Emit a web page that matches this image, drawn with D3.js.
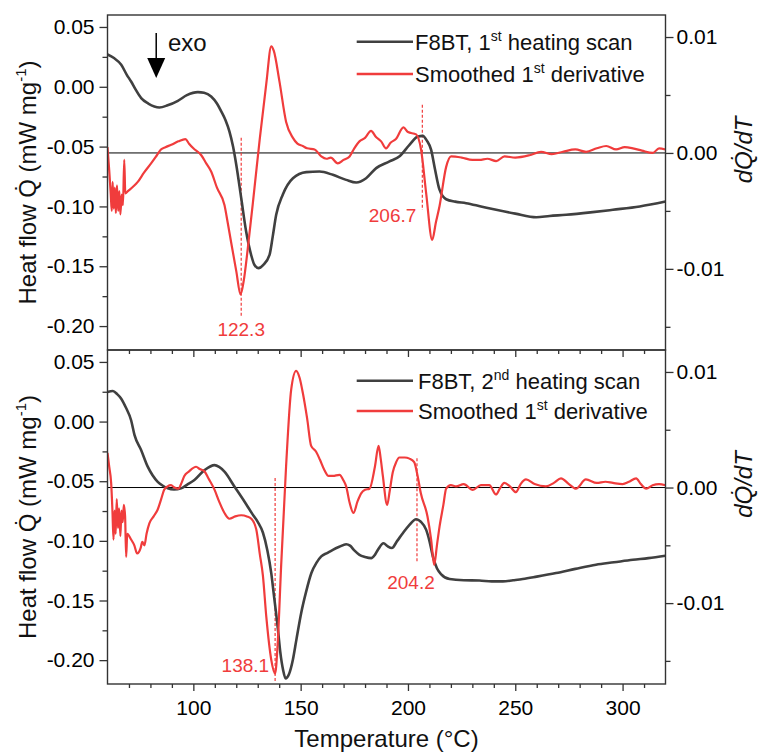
<!DOCTYPE html>
<html>
<head>
<meta charset="utf-8">
<script src="https://cdnjs.cloudflare.com/ajax/libs/d3/7.8.5/d3.min.js"></script>
<style>
  body { margin: 0; background: #fff; }
  text { font-family: "Liberation Sans", Arial, sans-serif; }
</style>
</head>
<body>
<svg id="chart"></svg>
<script>
// Dades llegides del gràfic: [temperatura °C, valor]
// Flux de calor, 1r escalfament (mW/mg)
var heat1 = [[60,0.027],[63,0.024],[66.4,0.0184],[69,0.010],[71,0.0044],[73,-0.002],[75.7,-0.0095],[79,-0.014],
  [84.2,-0.0173],[88,-0.0155],[92.8,-0.0117],[97,-0.007],[102.1,-0.0045],[105,-0.005],[108.3,-0.0081],[111,-0.014],
  [113,-0.0206],[115,-0.028],[116.8,-0.0373],[118.5,-0.050],[120,-0.0652],[122.3,-0.093],[124.6,-0.121],[127,-0.141],
  [128.5,-0.149],[130.4,-0.1516],[132.5,-0.149],[135.5,-0.1405],[137,-0.125],[138.6,-0.107],[141.7,-0.090],
  [146.4,-0.0764],[152.6,-0.0713],[158.8,-0.0708],[165,-0.0736],[171.2,-0.0778],[175.9,-0.080],[180.5,-0.0764],
  [185.2,-0.068],[191.4,-0.0624],[196.1,-0.058],[200.7,-0.0485],[204.6,-0.0415],[206.9,-0.041],[208.8,-0.045],
  [210.8,-0.0527],[212.5,-0.068],[214.7,-0.086],[217.8,-0.094],[222,-0.096],[227.1,-0.0973],[234,-0.100],
  [241.1,-0.1028],[250,-0.106],[259.8,-0.109],[266,-0.108],[273.7,-0.107],[285,-0.105],[295.5,-0.1028],
  [308,-0.100],[320,-0.0959]];

// Derivada suavitzada, 1r escalfament
var deriv1 = [[60,0.0005],[60.8,-0.0015],[61.5,-0.0035],[62,-0.0050],[62.4,-0.0025],[62.9,-0.0048],[63.4,-0.0030],
  [63.9,-0.0052],[64.4,-0.0028],[65,-0.0050],[65.5,-0.0033],[66,-0.0053],[66.6,-0.0036],[67.2,-0.0045],
  [67.8,-0.0006],[68.3,-0.0035],[69.5,-0.0033],[72,-0.0029],[74.1,-0.0025],[77,-0.0017],[80.3,-0.0009],
  [83,-0.0002],[84.9,0.0003],[87,0.0005],[89.7,0.0007],[93,0.0010],[96.3,0.0012],[98,0.0008],[100,0.0004],
  [103.7,-0.0002],[106,-0.0009],[108.3,-0.0016],[111,-0.0030],[114.5,-0.0045],[116,-0.0060],[117.6,-0.0077],
  [120,-0.0102],[122,-0.0122],[123.5,-0.0110],[125.4,-0.0082],[128.5,-0.0030],[131,0.0013],[134,0.0060],
  [136.3,0.0092],[137.5,0.0088],[140.1,0.0062],[143.2,0.0027],[146.4,0.0013],[148.5,0.0008],[151,0.0006],
  [153,0.0004],[156.5,0.0003],[159.6,-0.0003],[162,-0.0005],[164,-0.0004],[167.3,-0.0009],[170,-0.0006],
  [172.8,-0.0003],[175,0.0004],[177.4,0.0010],[180,0.0013],[182.8,0.0019],[185,0.0014],[187.5,0.0010],
  [189.8,0.0004],[192,0.0009],[194.4,0.0012],[197.9,0.0022],[200,0.0018],[203.8,0.0016],[206.1,0.0003],
  [208.5,-0.0035],[211.3,-0.0075],[213,-0.0060],[214.7,-0.0046],[217.8,-0.0012],[220.1,-0.0003],[225,-0.0004],
  [230,-0.0006],[233.3,-0.0006],[237,-0.0005],[241.1,-0.0007],[245,-0.0003],[250,-0.0004],[256.6,-0.0002],
  [262,0.0001],[267,-0.0001],[272.2,0.0001],[278,0.0003],[283,0.0001],[288,0.0004],[292.4,0.0006],[297,0.0003],
  [301,0.0005],[304.8,0.0004],[309,0.0002],[314.1,0],[317,0.0004],[320,0.0003]];

// Flux de calor, 2n escalfament
var heat2 = [[60,0.0247],[62.5,0.0256],[64.5,0.023],[66.4,0.0192],[68.5,0.012],[71,0.0011],[72.6,-0.0114],
  [75.7,-0.024],[78.8,-0.038],[81,-0.045],[83.4,-0.0505],[86,-0.054],[88.1,-0.056],[91,-0.057],[94.3,-0.056],
  [97,-0.053],[100.5,-0.049],[105.2,-0.0407],[109.9,-0.0365],[112,-0.038],[114.5,-0.042],[119.2,-0.0546],
  [123.8,-0.067],[127.7,-0.078],[130,-0.084],[132.4,-0.093],[134.5,-0.108],[136.3,-0.127],[137.5,-0.145],
  [139.4,-0.174],[140.5,-0.193],[141.8,-0.208],[143,-0.2153],[144.5,-0.212],[146.4,-0.1994],[148,-0.183],
  [150.3,-0.160],[152.5,-0.143],[155,-0.127],[157.5,-0.118],[159.6,-0.113],[162.5,-0.110],[165,-0.1075],
  [168,-0.105],[171.2,-0.1028],[173,-0.104],[175,-0.108],[177.4,-0.1117],[180,-0.1135],[182.9,-0.1145],
  [184.5,-0.112],[186,-0.1075],[188.6,-0.102],[190.5,-0.1045],[192.5,-0.106],[195,-0.100],[197.6,-0.0936],
  [200.5,-0.087],[203.8,-0.0819],[206,-0.084],[208.5,-0.0908],[210,-0.100],[211.6,-0.113],[213.5,-0.123],
  [215.5,-0.128],[219.4,-0.132],[226,-0.133],[233.3,-0.1332],[239,-0.134],[244.2,-0.134],[249,-0.133],
  [253.5,-0.132],[260,-0.130],[269,-0.127],[278,-0.1235],[287.6,-0.120],[296,-0.118],[304.8,-0.1159],
  [312,-0.1145],[320,-0.1125]];

// Derivada suavitzada, 2n escalfament
var deriv2 = [[60,0.0030],[60.8,0.0018],[61.7,0.0004],[62.3,-0.0020],[62.8,-0.0045],[63.3,-0.0020],[63.8,-0.0040],
  [64.3,-0.0010],[64.9,-0.0035],[65.4,-0.0018],[66,-0.0042],[66.5,-0.0020],[67.1,-0.0030],[67.6,-0.0015],
  [68.2,-0.0025],[68.7,-0.0060],[69.2,-0.0040],[71,-0.0045],[72.5,-0.0050],[73.8,-0.0057],[75.5,-0.0052],
  [76.2,-0.0047],[77.2,-0.0050],[78.2,-0.0040],[79.5,-0.0031],[81.5,-0.0025],[83.4,-0.0019],[85,-0.0010],
  [86.4,-0.0002],[88,0.0001],[89.6,0.0002],[91.2,0.0000],[93,-0.0001],[94.5,0.0004],[95.8,0.0010],[98,0.0014],
  [101.3,0.0018],[103,0.0016],[105.2,0.0014],[107,0.0008],[109.9,-0.0002],[112,-0.0012],[114.5,-0.0022],
  [116.8,-0.0027],[119.5,-0.0025],[122.3,-0.0024],[125,-0.0025],[127,-0.0027],[129.3,-0.0036],[131,-0.0058],
  [132.4,-0.0076],[134,-0.0112],[136.3,-0.0149],[138.1,-0.0161],[139.3,-0.0135],[140.9,-0.0068],[143.2,0.0018],
  [145.6,0.0085],[147.9,0.0101],[149.5,0.0095],[151,0.0082],[153,0.0060],[154.9,0.0036],[157.2,0.0031],
  [159,0.0024],[161.1,0.0015],[163,0.0010],[165,0.0010],[168.1,0.0011],[170,0.0006],[171.2,0.0001],
  [172.8,-0.0013],[174.6,-0.0022],[176.5,-0.0012],[178.2,-0.0005],[180,-0.0002],[182.1,-0.0001],[184.6,0.0018],
  [186.3,0.0036],[187.3,0.0025],[188.3,0.0010],[190.3,-0.0015],[191.5,-0.0003],[192.9,0.0013],[194.5,0.0022],
  [196,0.0026],[198.5,0.0026],[200.7,0.0025],[202.9,0.0022],[204.5,0.0010],[206,-0.0005],[209.1,-0.0025],
  [210.8,-0.0045],[212.2,-0.0067],[213.5,-0.0050],[214.7,-0.0034],[216.5,-0.0015],[217.8,-0.0001],[220,0.0002],
  [222.4,0.0001],[226,0.0003],[230.2,-0.0002],[234,0.0002],[237.9,0.0002],[241,-0.0006],[242.8,-0.0001],
  [244.9,0.0004],[247.5,0.0001],[250.3,-0.0004],[252.5,0.0003],[255,0.0007],[259,0.0003],[264.3,0.0001],
  [268,0.0004],[271.3,0.0008],[275,0.0003],[278.3,-0.0001],[282.9,0.0007],[288,0.0004],[292,0.0005],
  [295.5,0.0004],[300,0.0003],[303,0.0005],[306.3,0.0008],[308.5,0.0003],[311,-0.0001],[314,0.0002],
  [317,0.0003],[320,0.0002]];

// Pics marcats: temperatura i extrem vertical de la línia (eix esquerre)
var peaks1 = [{t: 122.3, y0: -0.0426, y1: -0.193}, {t: 206.7, y0: -0.015, y1: -0.103}];
var peaks2 = [{t: 138.1, y0: -0.0474, y1: -0.218}, {t: 204.2, y0: -0.0307, y1: -0.1175}];

// Ticks
var xMajor = [100, 150, 200, 250, 300];
var leftMajor = [-0.20, -0.15, -0.10, -0.05, 0.00, 0.05];
var rightMajor = [-0.01, 0.00, 0.01];

var width = 761, height = 754;
var black = "#404040", red = "#f03c3c";

var svg = d3.select("#chart").attr("width", width).attr("height", height);

var x = d3.scaleLinear().domain([60, 320]).range([107.5, 665.5]);
var xMinor = d3.range(70, 320, 10).filter(d => xMajor.indexOf(d) < 0);
var leftMinor = [-0.175, -0.125, -0.075, -0.025, 0.025];
var rightMinor = [-0.015, -0.005, 0.005];

var fmt = d => d3.format(".2f")(d).replace("\u2212", "-");

var panels = [
  {top: 15, bottom: 350, heat: heat1, deriv: deriv1, peaks: peaks1, ord: ["1", "st"], leg: [41.7, 74], legX: 415, topTicks: false},
  {top: 350, bottom: 684, heat: heat2, deriv: deriv2, peaks: peaks2, ord: ["2", "nd"], leg: [380.7, 411], legX: 418, topTicks: true}
];

panels.forEach(function(p, i) {
  var yL = d3.scaleLinear().domain([-0.22, 0.06]).range([p.bottom, p.top]);
  var yR = d3.scaleLinear().domain([-0.017, 0.0119]).range([p.bottom, p.top]);
  var g = svg.append("g");

  var clipId = "clip" + i;
  svg.append("clipPath").attr("id", clipId).append("rect")
    .attr("x", x.range()[0]).attr("y", p.top)
    .attr("width", x.range()[1] - x.range()[0]).attr("height", p.bottom - p.top);

  // línia del zero de la derivada
  g.append("line")
    .attr("x1", x.range()[0]).attr("x2", x.range()[1])
    .attr("y1", yR(0)).attr("y2", yR(0))
    .attr("stroke", "#000").attr("stroke-width", 1);

  // línies discontínues dels pics
  p.peaks.forEach(function(k) {
    g.append("line")
      .attr("x1", x(k.t)).attr("x2", x(k.t))
      .attr("y1", yL(k.y0)).attr("y2", yL(k.y1))
      .attr("stroke", red).attr("stroke-width", 1.2).attr("stroke-dasharray", "3,2");
  });

  var lineL = d3.line().curve(d3.curveMonotoneX).x(d => x(d[0])).y(d => yL(d[1]));
  var lineR = d3.line().curve(d3.curveMonotoneX).x(d => x(d[0])).y(d => yR(d[1]));

  g.append("path").datum(p.heat)
    .attr("clip-path", "url(#" + clipId + ")")
    .attr("d", lineL).attr("fill", "none")
    .attr("stroke", black).attr("stroke-width", 2.6).attr("stroke-linejoin", "round");

  g.append("path").datum(p.deriv)
    .attr("clip-path", "url(#" + clipId + ")")
    .attr("d", lineR).attr("fill", "none")
    .attr("stroke", red).attr("stroke-width", 2.2).attr("stroke-linejoin", "round");

  // eixos
  var axL = g.append("g").attr("transform", "translate(" + x.range()[0] + ",0)")
    .call(d3.axisLeft(yL).tickValues(leftMajor).tickSize(8).tickFormat(fmt));
  g.append("g").attr("transform", "translate(" + x.range()[0] + ",0)")
    .call(d3.axisLeft(yL).tickValues(leftMinor).tickSize(5).tickFormat(""));
  g.append("g").attr("transform", "translate(" + x.range()[1] + ",0)")
    .call(d3.axisRight(yR).tickValues(rightMajor).tickSize(8).tickFormat(fmt));
  g.append("g").attr("transform", "translate(" + x.range()[1] + ",0)")
    .call(d3.axisRight(yR).tickValues(rightMinor).tickSize(5).tickFormat(""));

  if (p.topTicks) {
    g.append("g").attr("transform", "translate(0," + p.top + ")")
      .call(d3.axisBottom(x).tickValues(xMajor).tickSize(7).tickFormat(""));
    g.append("g").attr("transform", "translate(0," + p.top + ")")
      .call(d3.axisBottom(x).tickValues(xMinor).tickSize(4).tickFormat(""));
    g.append("g").attr("transform", "translate(0," + p.bottom + ")")
      .call(d3.axisBottom(x).tickValues(xMajor).tickSize(7).tickPadding(9));
    g.append("g").attr("transform", "translate(0," + p.bottom + ")")
      .call(d3.axisBottom(x).tickValues(xMinor).tickSize(4).tickFormat(""));
  }

  g.selectAll(".domain").remove();
  g.selectAll(".tick line").attr("stroke", "#333").attr("stroke-width", 1.3);
  g.selectAll(".tick text").attr("font-size", 21).attr("fill", "#000")
    .attr("font-family", "'Liberation Sans', Arial, sans-serif");
  axL.selectAll(".tick text").attr("dx", "-2");

  // marc
  g.append("rect")
    .attr("x", x.range()[0]).attr("y", p.top)
    .attr("width", x.range()[1] - x.range()[0]).attr("height", p.bottom - p.top)
    .attr("fill", "none").attr("stroke", "#333").attr("stroke-width", 1.4);

  // llegenda
  var labels = [["F8BT, " + p.ord[0], p.ord[1], " heating scan"], ["Smoothed 1", "st", " derivative"]];
  [black, red].forEach(function(c, j) {
    var ly = p.leg[j];
    g.append("line").attr("x1", 356.7).attr("x2", 413).attr("y1", ly).attr("y2", ly)
      .attr("stroke", c).attr("stroke-width", 2.6);
    var t = g.append("text").attr("x", p.legX).attr("y", ly + 8).attr("font-size", 22).attr("fill", "#111");
    t.append("tspan").text(labels[j][0]);
    t.append("tspan").attr("dy", -9).attr("font-size", 14).text(labels[j][1]);
    t.append("tspan").attr("dy", 9).text(labels[j][2]);
  });

  // títol eix esquerre
  var cy = (p.top + p.bottom) / 2;
  var tl = g.append("text").attr("transform", "translate(36," + cy + ") rotate(-90)")
    .attr("text-anchor", "middle").attr("font-size", 24).attr("fill", "#111");
  tl.append("tspan").text("Heat flow Q\u0307 (mW mg");
  tl.append("tspan").attr("dy", -10).attr("font-size", 15).text("-1");
  tl.append("tspan").attr("dy", 10).text(")");

  // títol eix dret
  g.append("text").attr("transform", "translate(752," + (yR(0) - 3) + ") rotate(-90)")
    .attr("text-anchor", "middle").attr("font-size", 24).attr("font-style", "italic").attr("fill", "#111")
    .text("dQ\u0307/dT");
});

// etiquetes dels pics
var ann = [
  {text: "122.3", t: 122.3, y: 336, anchor: "middle", dx: 0},
  {text: "206.7", t: 206.7, y: 222, anchor: "end", dx: -6},
  {text: "138.1", t: 138.1, y: 672, anchor: "end", dx: -6},
  {text: "204.2", t: 204.2, y: 589, anchor: "middle", dx: -6}
];
ann.forEach(function(a) {
  svg.append("text").attr("x", x(a.t) + a.dx).attr("y", a.y)
    .attr("text-anchor", a.anchor).attr("font-size", 19).attr("fill", red).text(a.text);
});

// fletxa "exo"
var ax = x(82.7);
svg.append("line").attr("x1", ax).attr("x2", ax).attr("y1", 33).attr("y2", 62)
  .attr("stroke", "#000").attr("stroke-width", 1.5);
svg.append("path").attr("d", "M" + (ax - 9) + ",58L" + (ax + 9) + ",58L" + ax + ",78Z").attr("fill", "#000");
svg.append("text").attr("x", 168).attr("y", 51).attr("font-size", 24).attr("fill", "#111").text("exo");

// títol eix x
svg.append("text").attr("x", (x.range()[0] + x.range()[1]) / 2).attr("y", 747)
  .attr("text-anchor", "middle").attr("font-size", 24).attr("fill", "#111").text("Temperature (\u00b0C)");
</script>
</body>
</html>
